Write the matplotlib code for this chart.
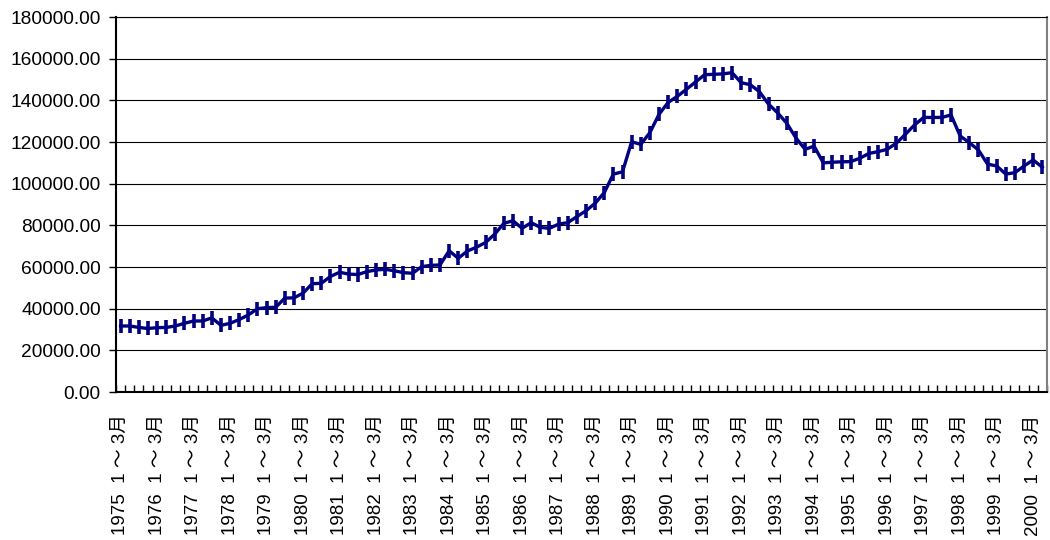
import matplotlib
matplotlib.use("Agg")
import matplotlib.pyplot as plt
from matplotlib.ticker import FuncFormatter

plt.rcParams["font.family"] = ["Liberation Sans", "Noto Sans CJK JP"]

# quarterly values, 1975 Q1 .. 2000 Q2
years = list(range(1975, 2001))
values = [
    31700, 31700, 31000, 30500, 30900, 31000, 31700, 33000,  # 1975-76
    34100, 34100, 35600, 32000, 33000, 34800, 37000, 40000,  # 1977-78
    40500, 40700, 45100, 45200, 47500, 52000, 52200, 55500,  # 1979-80
    57500, 56600, 56400, 57800, 58600, 58900, 58200, 57300,  # 1981-82
    57000, 60200, 60800, 61000, 67800, 64200, 67700, 69500,  # 1983-84
    71800, 75800, 81000, 82200, 78600, 81300, 79000, 78600,  # 1985-86
    80600, 81300, 84200, 87000, 90600, 95700, 104600, 105700,  # 1987-88
    120100, 118900, 124500, 133300, 139000, 141900, 145300, 148800,  # 1989-90
    152300, 152500, 152700, 153300, 148500, 147500, 144200, 138200,  # 1991-92
    134000, 129000, 122000, 116500, 118000, 110000, 110300, 110500,  # 1993-94
    110600, 112200, 114500, 115400, 116500, 119400, 123700, 128200,  # 1995-96
    131800, 131800, 131800, 133000, 122900, 119700, 116200, 109400,  # 1997-98
    108500, 104600, 105300, 108500, 111400, 107900,  # 1999-2000 Q2
]
tick_labels = [f"{y}  1 ～ 3月" for y in years]


def main():
    fig = plt.figure(figsize=(10.5, 5.4), dpi=100)
    ax = fig.add_axes([0.1105, 0.274, 0.8865, 0.6945])

    x = list(range(len(values)))
    ax.plot(x, values, color="#000080", lw=2.4, marker="|",
            markersize=10.5, markeredgewidth=2.6, zorder=3)

    ax.set_xlim(-0.5, len(values) - 0.5)
    ax.set_ylim(0, 180000)
    ax.set_yticks(range(0, 180001, 20000))
    ax.yaxis.set_major_formatter(FuncFormatter(lambda v, p: f"{v:.2f}"))
    ax.grid(axis="y", color="black", lw=0.8)
    ax.set_axisbelow(True)

    ax.set_xticks(list(range(0, len(values), 4)), tick_labels, rotation=90)
    ax.set_xticks([k - 0.5 for k in range(len(values) + 1)], minor=True)
    ax.tick_params(axis="x", which="major", length=0, pad=16, labelsize=13.5)
    ax.tick_params(axis="x", which="minor", direction="in", length=5, width=1)
    ax.tick_params(axis="y", direction="out", length=5, width=1, labelsize=13.8, pad=6)

    for s in ["left", "bottom"]:
        ax.spines[s].set_color("black")
        ax.spines[s].set_linewidth(1.5)
    ax.spines["top"].set_color("black")
    ax.spines["top"].set_linewidth(0.8)
    ax.spines["right"].set_color("#808080")
    ax.spines["right"].set_linewidth(1.5)

    fig.savefig("out.png", dpi=100)
    plt.close(fig)


if __name__ == "__main__":
    main()
